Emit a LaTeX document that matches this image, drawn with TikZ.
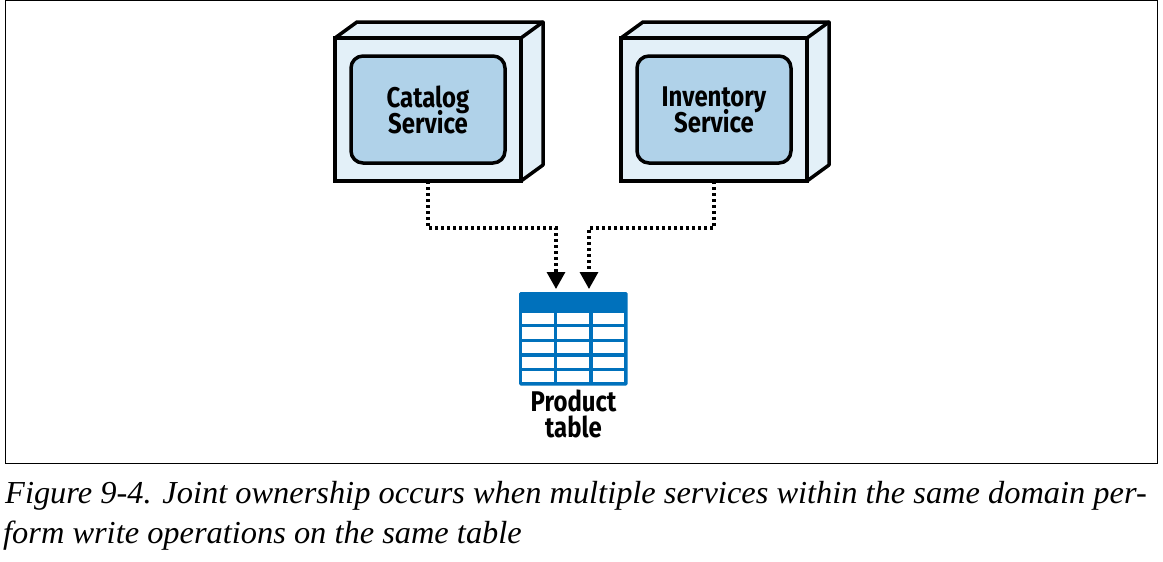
\documentclass[tikz,border=0pt]{standalone}
\usepackage{fontspec}
\usetikzlibrary{arrows.meta}
\newfontfamily\labfont[FakeStretch=0.84]{Fira Sans}
\newfontfamily\capfont[FakeStretch=1.013]{Liberation Serif}
\definecolor{boxlight}{HTML}{E3F0F8}
\definecolor{boxmid}{HTML}{B0D2E9}
\definecolor{tblue}{HTML}{0071BC}
\newcommand{\tightlabel}{\labfont\bfseries\fontsize{28.5}{26}\selectfont\lineskiplimit -50pt\relax}
\tikzset{
  x=1pt,y=-1pt,
  svcfront/.style={draw=black,line width=3.5pt,fill=boxlight,minimum width=186pt,minimum height=143pt,inner sep=0pt,outer sep=0pt,line join=miter},
  svcside/.style={draw=black,line width=3.5pt,fill=boxlight,line join=bevel},
  svcinner/.style={draw=black,line width=3.5pt,fill=boxmid,rounded corners=12pt,minimum width=154pt,minimum height=107pt,inner sep=0pt,outer sep=0pt,align=center,font=\tightlabel},
  dep/.style={draw=black,line width=3.2pt,dash pattern=on 3pt off 3pt,-{Triangle[length=17pt,width=18pt,sep=0pt]}},
  tablebody/.style={fill=tblue,rounded corners=1.5pt,minimum width=108.5pt,minimum height=93.5pt,inner sep=0pt,outer sep=0pt},
  tablecell/.style={fill=white},
  tablelabel/.style={align=center,inner sep=0pt,font=\tightlabel},
  caption/.style={anchor=base west,inner sep=0pt,font=\capfont\itshape\fontsize{32}{36}\selectfont},
}
\newcommand{\svcbox}[4]{%
  \path[svcside] (#1,#2) -- ++(22,-16) -- ++(186,0) -- ++(0,143) -- ++(-22,16) -- ++(0,-143) -- cycle;
  \node[svcfront] (#3front) at (#1+93,#2+71.5) {};
  \draw[svcside,fill=none,line cap=round] (#1+186,#2) -- ++(22,-16);
  \node[svcinner] (#3inner) at (#1+93,#2+71.5) {#4};
}
\begin{document}
\begin{tikzpicture}
\useasboundingbox (0,0) rectangle (1163,562);
\draw[black,line width=1pt] (5.5,0.5) rectangle (1157.5,463);
\svcbox{335}{38}{cat}{Catalog\\Service}
\svcbox{621}{38}{inv}{Inventory\\Service}
\node[tablebody,anchor=north west] (tab) at (519,292) {};
\foreach \ya/\yb in {312.7/324,327.3/338.7,342/353.3,356.7/368,371/382.3}
  \foreach \xa/\xb in {522.3/554,557.3/589.3,592.7/624.3}
    \fill[tablecell] (\xa,\ya) rectangle (\xb,\yb);
\node[tablelabel,anchor=north] (tablab) at (573.5,390) {Product\\table};
\coordinate (inL) at (556,289);
\coordinate (inR) at (589,289);
\coordinate (midL) at (428,228);
\coordinate (midR) at (714,228);
\draw[dep] (catfront.south) -- (midL) -| (inL);
\draw[dep] (invfront.south) -- (midR) -| (inR);
\node[caption] (cap1) at (5,503) {Figure 9-4. Joint ownership occurs when multiple services within the same domain per-};
\node[caption] (cap2) at (3,543) {form write operations on the same table};
\end{tikzpicture}
\end{document}
